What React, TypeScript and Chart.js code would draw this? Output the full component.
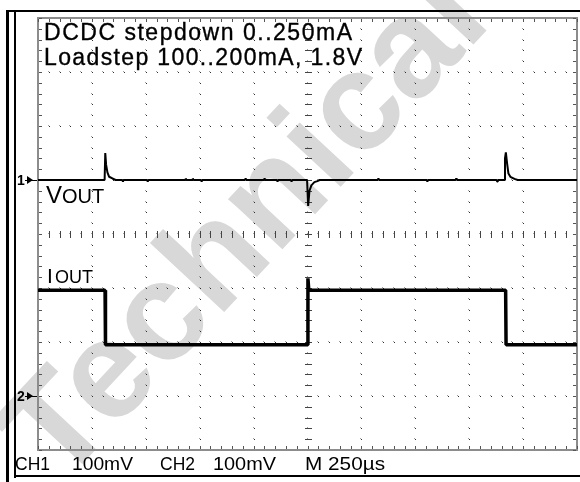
import React, { useEffect, useRef } from "react";
import { Chart, registerables } from "chart.js";

Chart.register(...registerables);

// ---- Data (time in µs, 250 µs/div; channels in mV, 100 mV/div) ----
const timeGrid = [0, 250, 500, 750, 1000, 1250, 1500, 1750, 2000, 2250, 2500];
const ch1Grid = [-500, -400, -300, -200, -100, 0, 100, 200, 300];

// CH1: VOUT (AC deviation, mV)
const voutTimes = [
  0, 309, 312, 316, 322, 330, 345, 360,
  391, 394, 397, 506, 509, 512, 682, 685, 688, 715, 718, 721, 756, 759, 762,
  960, 963, 966, 1048, 1051, 1054, 1108, 1111, 1114, 1173, 1176, 1179,
  1248, 1251, 1253, 1259, 1268, 1282, 1296, 1306,
  1576, 1579, 1582, 1803, 1806, 1809, 1937, 1940, 1943, 2127, 2130, 2133,
  2163, 2166, 2170, 2176, 2182, 2191, 2210, 2225, 2500,
];
const voutMv = [
  0, 0, 50, 28, 14, 6, 3, 0,
  0, -3, 0, 0, -3, 0, 0, 3, 0, 0, 3, 0, 0, -3, 0,
  0, 3, 0, 0, 3, 0, 0, -3, 0, 0, -3, 0,
  0, 0, -48, -20, -10, -4, -2, 0,
  0, 3, 0, 0, -3, 0, 0, 3, 0, 0, -3, 0,
  0, 40, 51, 30, 12, 6, 2, 0, 0,
];

// CH2: IOUT (current probe, mV ~ mA)
const ioutTimes = [0, 311, 313, 1250, 1252, 1256, 2169, 2171, 2500];
const ioutMv = [196, 196, 95, 95, 218, 196, 196, 95, 95];

// ---- Texts ----
const titleLines = ["DCDC stepdown 0..250mA", "Loadstep 100..200mA, 1.8V"];
const statusLabels = ["CH1", "100mV", "CH2", "100mV", "M 250µs"];
const watermarkText = "Technical";

const SANS = '"Liberation Sans", Arial, Helvetica, sans-serif';

function fitText(ctx: CanvasRenderingContext2D, text: string, x: number, y: number, width: number) {
  const w = ctx.measureText(text).width;
  ctx.save();
  ctx.translate(x, y);
  ctx.scale(width / w, 1);
  ctx.fillText(text, 0, 0);
  ctx.restore();
}

function spacedText(ctx: CanvasRenderingContext2D, text: string, x: number, y: number, width: number) {
  const anyCtx = ctx as any;
  if ("letterSpacing" in anyCtx) {
    anyCtx.letterSpacing = "0px";
    const w = ctx.measureText(text).width;
    const gap = (width - w) / Math.max(1, text.length - 1);
    anyCtx.letterSpacing = gap + "px";
    ctx.fillText(text, x, y);
    ctx.lineWidth = 0.35;
    ctx.strokeText(text, x, y);
    anyCtx.letterSpacing = "0px";
  } else {
    fitText(ctx, text, x, y, width);
  }
}

const scopePlugin = {
  id: "scope",
  beforeDraw(chart: any) {
    const ctx: CanvasRenderingContext2D = chart.ctx;
    const { left, right, top, bottom } = chart.chartArea;
    const xs = chart.scales.x;
    const ys = chart.scales.y1;
    ctx.save();
    ctx.fillStyle = "#ffffff";
    ctx.fillRect(0, 0, chart.width, chart.height);

    // watermark
    ctx.save();
    ctx.translate(60, 488);
    ctx.rotate((-47 * Math.PI) / 180);
    ctx.font = `bold 140px ${SANS}`;
    ctx.fillStyle = "#d8d8d8";
    ctx.textBaseline = "alphabetic";
    ctx.fillText(watermarkText, 0, 0);
    ctx.restore();

    const xStep = (timeGrid[1] - timeGrid[0]) / 5;
    const yStep = (ch1Grid[1] - ch1Grid[0]) / 5;
    const xMinor: number[] = [];
    for (let t = timeGrid[0]; t <= timeGrid[timeGrid.length - 1] + 0.01; t += xStep) xMinor.push(t);
    const yMinor: number[] = [];
    for (let v = ch1Grid[0]; v <= ch1Grid[ch1Grid.length - 1] + 0.01; v += yStep) yMinor.push(v);
    const px = (t: number) => Math.round(xs.getPixelForValue(t));
    const py = (v: number) => Math.round(ys.getPixelForValue(v));

    // dotted major lines
    const dot = (x: number, y: number) => {
      ctx.fillStyle = "#a0a0a0";
      ctx.fillRect(x - 1, y - 1, 1, 1);
      ctx.fillStyle = "#303030";
      ctx.fillRect(x, y, 1, 1);
    };
    timeGrid.slice(1, -1).forEach((t) => yMinor.forEach((v) => dot(px(t), py(v))));
    ch1Grid.slice(1, -1).forEach((v) => xMinor.forEach((t) => dot(px(t), py(v))));

    // center cross ticks
    const cx = px(timeGrid[5]);
    const cy = py(ch1Grid[4]);
    ctx.fillStyle = "#444";
    xMinor.forEach((t) => ctx.fillRect(px(t), cy - 3, 1, 7));
    yMinor.forEach((v) => ctx.fillRect(cx - 3, py(v), 7, 1));

    // border (dithered look) + edge ticks
    ctx.fillStyle = "#8c8c8c";
    ctx.fillRect(left - 1, top - 1, right - left + 2, 2);
    ctx.fillRect(left - 1, bottom - 1, right - left + 2, 2);
    ctx.fillRect(left - 1, top - 1, 2, bottom - top + 2);
    ctx.fillRect(right - 1, top - 1, 2, bottom - top + 2);
    ctx.fillStyle = "#555";
    xMinor.forEach((t) => {
      ctx.fillRect(px(t), top + 1, 1, 3);
      ctx.fillRect(px(t), bottom - 4, 1, 3);
    });
    yMinor.forEach((v) => {
      ctx.fillRect(left + 1, py(v), 3, 1);
      ctx.fillRect(right - 4, py(v), 3, 1);
    });

    // outer frame
    ctx.fillStyle = "#000";
    ctx.fillRect(6, 10, chart.width - 6, 2);
    ctx.fillRect(6, 10, 3, chart.height - 10);
    ctx.fillRect(14, 12, 2, 466);
    ctx.fillRect(14, 475, chart.width - 14, 2);
    ctx.restore();
  },
  afterDraw(chart: any) {
    const ctx: CanvasRenderingContext2D = chart.ctx;
    const ys1 = chart.scales.y1;
    const ys2 = chart.scales.y2;
    ctx.save();
    ctx.fillStyle = "#000";
    ctx.strokeStyle = "#000";
    ctx.textBaseline = "alphabetic";

    // title
    ctx.font = `23px ${SANS}`;
    spacedText(ctx, titleLines[0], 44, 40, 308);
    spacedText(ctx, titleLines[1], 44, 65, 318);

    // channel labels
    ctx.font = `24px ${SANS}`;
    ctx.fillText("V", 46, 203);
    ctx.font = `20px ${SANS}`;
    ctx.fillText("OUT", 62, 203);
    ctx.font = `21px ${SANS}`;
    ctx.fillText("I", 47, 283);
    ctx.font = `18px ${SANS}`;
    ctx.fillText("OUT", 55, 283);

    // reference markers
    const markers: [string, number][] = [
      ["1", Math.round(ys1.getPixelForValue(0))],
      ["2", Math.round(ys2.getPixelForValue(0))],
    ];
    ctx.font = `bold 14px ${SANS}`;
    markers.forEach(([label, y]) => {
      ctx.fillText(label, 17, y + 5);
      ctx.beginPath();
      ctx.moveTo(27, y - 4);
      ctx.lineTo(27, y + 4);
      ctx.lineTo(33, y);
      ctx.closePath();
      ctx.fill();
      ctx.fillRect(25, y, 12, 1);
    });

    // status line
    ctx.font = `18px ${SANS}`;
    const pos: [number, number][] = [[15, 35], [72, 61], [160, 35], [213, 63], [305, 80]];
    statusLabels.forEach((s, i) => fitText(ctx, s, pos[i][0], 470, pos[i][1]));
    ctx.restore();
  },
};

export default function App() {
  const ref = useRef<HTMLCanvasElement | null>(null);
  useEffect(() => {
    if (!ref.current) return;
    const chart = new Chart(ref.current, {
      type: "line",
      data: {
        datasets: [
          {
            label: "VOUT",
            data: voutTimes.map((t, i) => ({ x: t, y: voutMv[i] })),
            yAxisID: "y1",
            borderColor: "#000",
            borderWidth: 2,
            borderJoinStyle: "bevel",
            pointRadius: 0,
            tension: 0,
          },
          {
            label: "IOUT",
            data: ioutTimes.map((t, i) => ({ x: t, y: ioutMv[i] })),
            yAxisID: "y2",
            borderColor: "#000",
            borderWidth: 3.5,
            borderJoinStyle: "bevel",
            pointRadius: 0,
            tension: 0,
          },
        ],
      },
      options: {
        animation: false,
        responsive: false,
        devicePixelRatio: 1,
        events: [],
        layout: { padding: { left: 38, right: 3, top: 18, bottom: 32 } },
        scales: {
          x: { type: "linear", min: timeGrid[0], max: timeGrid[timeGrid.length - 1], display: false },
          y1: { type: "linear", min: ch1Grid[0], max: ch1Grid[ch1Grid.length - 1], display: false },
          y2: { type: "linear", min: -100, max: 700, display: false },
        },
        plugins: { legend: { display: false }, tooltip: { enabled: false } },
      },
      plugins: [scopePlugin],
    } as any);
    return () => chart.destroy();
  }, []);
  return (
    <div style={{ position: "absolute", left: 0, top: 0, width: 580, height: 482, background: "#fff" }}>
      <canvas ref={ref} width={580} height={482} style={{ display: "block" }} />
    </div>
  );
}
